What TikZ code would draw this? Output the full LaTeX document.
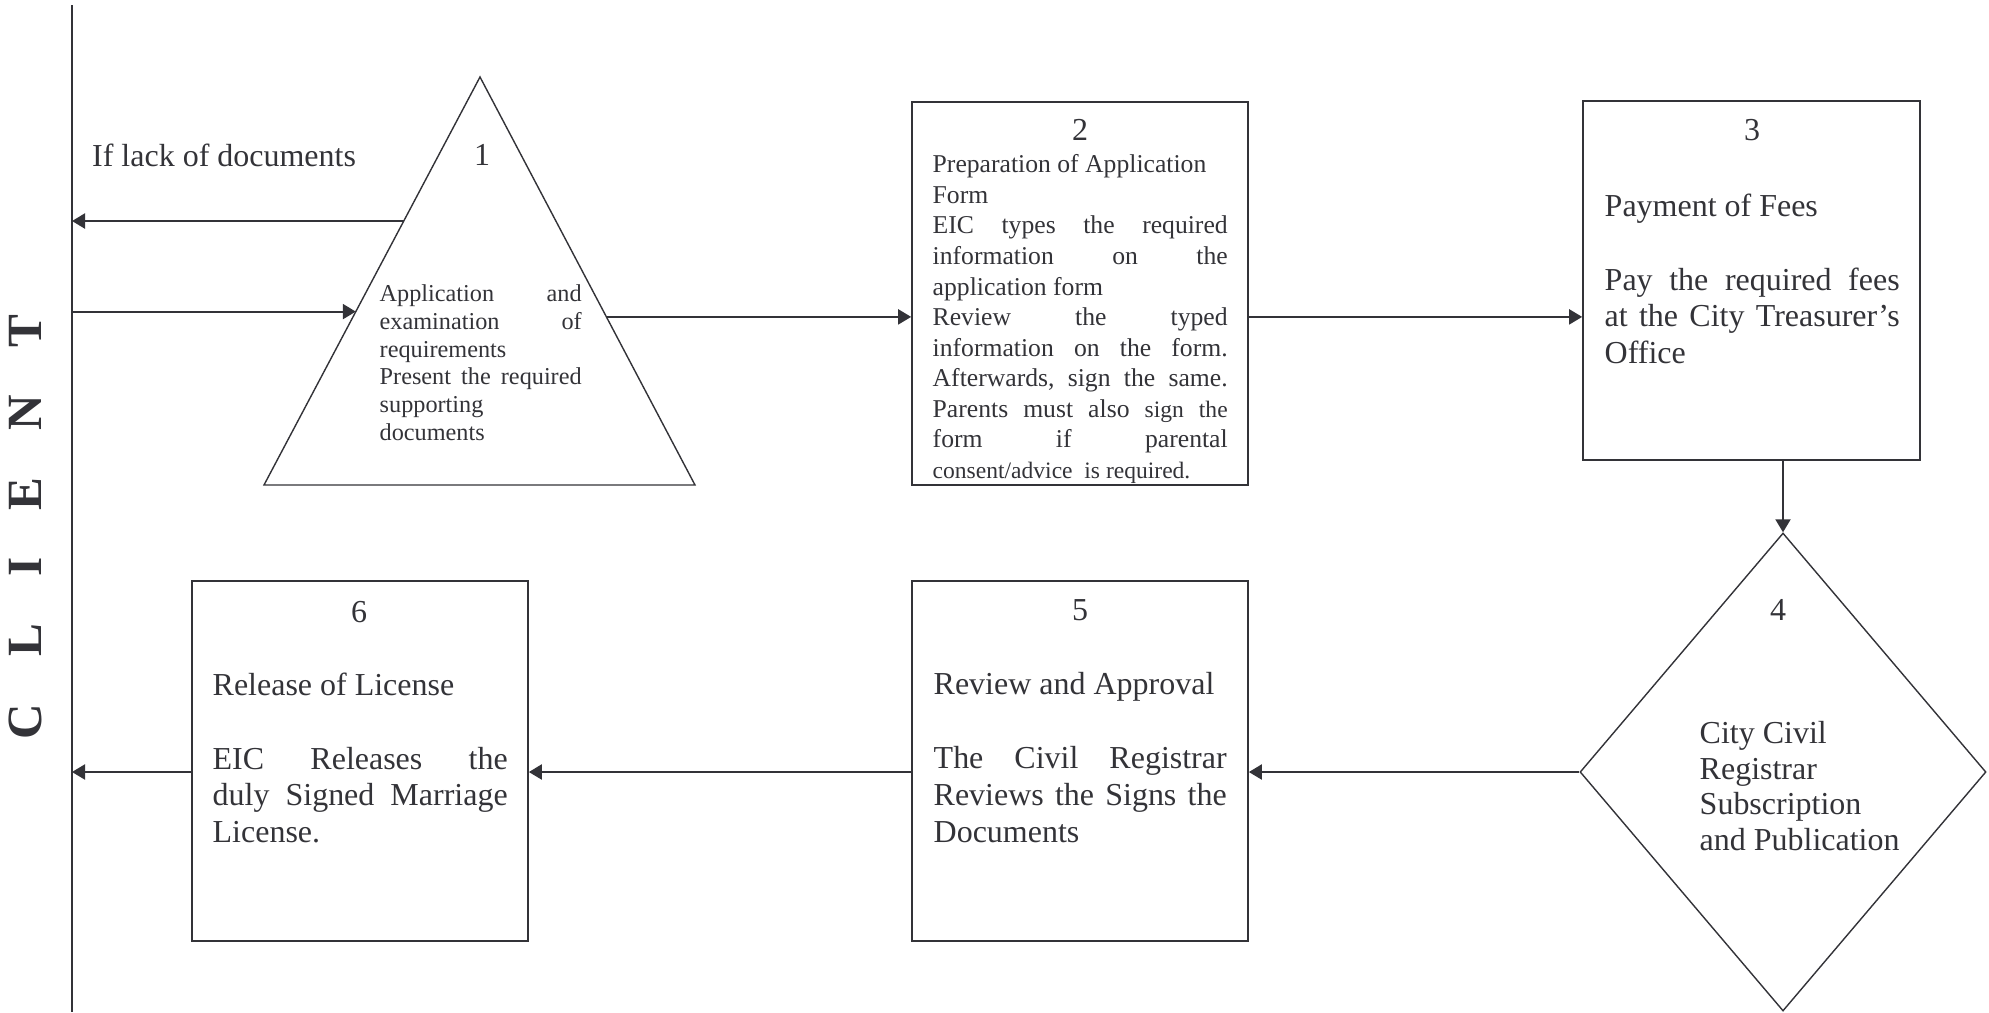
\documentclass[tikz,border=0pt]{standalone}
\usepackage{fontspec}
\setmainfont{Liberation Serif}
\usetikzlibrary{shapes.geometric}
\usetikzlibrary{arrows.meta}
\usetikzlibrary{calc}
\definecolor{ink}{HTML}{333338}
% no hyphenation in the justified boxes
\hyphenpenalty=10000
\exhyphenpenalty=10000
\tolerance=9999
\newcommand{\lanegap}{\hspace{13.4pt}} % spacing of the lane letters
\newcommand{\smallsize}{\fontsize{6.7}{8.7}\selectfont} % smaller words in step 2

\tikzset{
	stage/.style={draw=ink, line width=0.48pt, rectangle, minimum width=3.36cm, inner sep=0pt},
	flow/.style={draw=ink, line width=0.6pt, -{Triangle[length=1.3mm,width=1.5mm]}},
	num/.style={text=ink, font=\fontsize{9.1}{10.5}\selectfont, inner sep=0pt},
	body/.style={text=ink, font=\fontsize{9.1}{10.5}\selectfont, inner sep=0pt, anchor=north west, text width=2.95cm, align=justify},
}

\begin{document}
\begin{tikzpicture}
	% page: 1989px x 1012px, 1px = 0.01cm
	\useasboundingbox (0,0) rectangle (19.89,10.12);
	
	% client lane
	\coordinate (lanetop) at (0.72,10.07);
	\coordinate (lanebot) at (0.72,0);
	\draw[ink, line width=0.6pt] (lanetop) -- (lanebot);
	\node[text=ink, font=\fontsize{14}{16}\selectfont\bfseries, rotate=90, inner sep=0pt] (client) at (0.25,4.85) {C\lanegap L\lanegap I\lanegap E\lanegap N\lanegap T};
	
	% step 1: triangle
	\coordinate (t1top) at (4.80,9.35);
	\coordinate (t1left) at (2.64,5.27);
	\coordinate (t1right) at (6.95,5.27);
	\draw[ink, line width=0.4pt] (t1top) -- (t1left) -- (t1right) -- cycle;
	\coordinate (t1in) at ($(t1top)!0.575!(t1left)$);
	\coordinate (t1out) at ($(t1top)!0.588!(t1right)$);
	\coordinate (t1back) at ($(t1top)!0.353!(t1left)$);
	\node[num] (n1) at (4.82,8.57) {1};
	\node[num, anchor=west] (lack) at (0.915,8.57) {If lack of documents};
	\node[body, text width=2.02cm, font=\fontsize{6.9}{7.9}\selectfont] (t1text) at (3.79,7.28) {Application\hfill and\\examination\hfill of\\requirements\\Present\hfill the\hfill required\\supporting\\documents};
	
	% step 2
	\node[stage, minimum height=3.83cm] (b2) at (10.80,7.185) {};
	\node[num] (n2) at (10.80,8.82) {2};
	\node[body, font=\fontsize{7.3}{8.7}\selectfont] (b2text) at (9.32,8.58) {Preparation of Application\\Form\\EIC\hfill types\hfill the\hfill required\\information\hfill on\hfill the\\application form\\Review\hfill the\hfill typed\\information\hfill on\hfill the\hfill form.\\Afterwards,\hfill sign\hfill the\hfill same.\\Parents\hfill must\hfill also\hfill {\smallsize sign}\hfill {\smallsize the}\\form\hfill if\hfill parental\\{\smallsize consent/advice\ \ is required.}};
	
	% step 3
	\node[stage, minimum width=3.37cm, minimum height=3.59cm] (b3) at (17.515,7.315) {};
	\node[num] (n3) at (17.52,8.82) {3};
	\node[body] (b3text) at (16.04,8.19) {Payment of Fees\\[10.5pt]Pay the required fees at the City Treasurer's Office};
	
	% step 4: diamond
	\node[draw=ink, line width=0.4pt, diamond, minimum width=4.06cm, minimum height=4.78cm, inner sep=0pt] (d4) at (17.83,2.40) {};
	\node[num] (n4) at (17.78,4.02) {4};
	\node[num, anchor=north west, align=left, font=\fontsize{9.1}{10.1}\selectfont] (d4text) at (16.99,2.91) {City Civil\\Registrar\\Subscription\\and Publication};
	
	% step 5
	\node[stage, minimum height=3.60cm] (b5) at (10.80,2.51) {};
	\node[num] (n5) at (10.80,4.02) {5};
	\node[body, text width=2.93cm] (b5text) at (9.33,3.40) {Review and Approval\\[10.5pt]The Civil Registrar Reviews the Signs the Documents};
	
	% step 6
	\node[stage, minimum height=3.60cm] (b6) at (3.60,2.51) {};
	\node[num] (n6) at (3.59,4.00) {6};
	\node[body] (b6text) at (2.12,3.40) {Release of License\\[10.5pt]EIC\hfill Releases\hfill the\\duly Signed Marriage License.};
	
	% flow
	\draw[flow] (lanetop |- t1in) -- (t1in);
	\draw[flow] (t1back) -- (lanetop |- t1back);
	\draw[flow] (t1out) -- (b2.west |- t1out);
	\draw[flow] (b2.east |- t1out) -- (b3.west |- t1out);
	\draw[flow] (b3.south -| d4.north) -- (d4.north);
	\draw[flow] (d4.west) -- (b5.east |- d4.west);
	\draw[flow] (b5.west |- d4.west) -- (b6.east |- d4.west);
	\draw[flow] (b6.west |- d4.west) -- (lanetop |- d4.west);
\end{tikzpicture}
\end{document}
